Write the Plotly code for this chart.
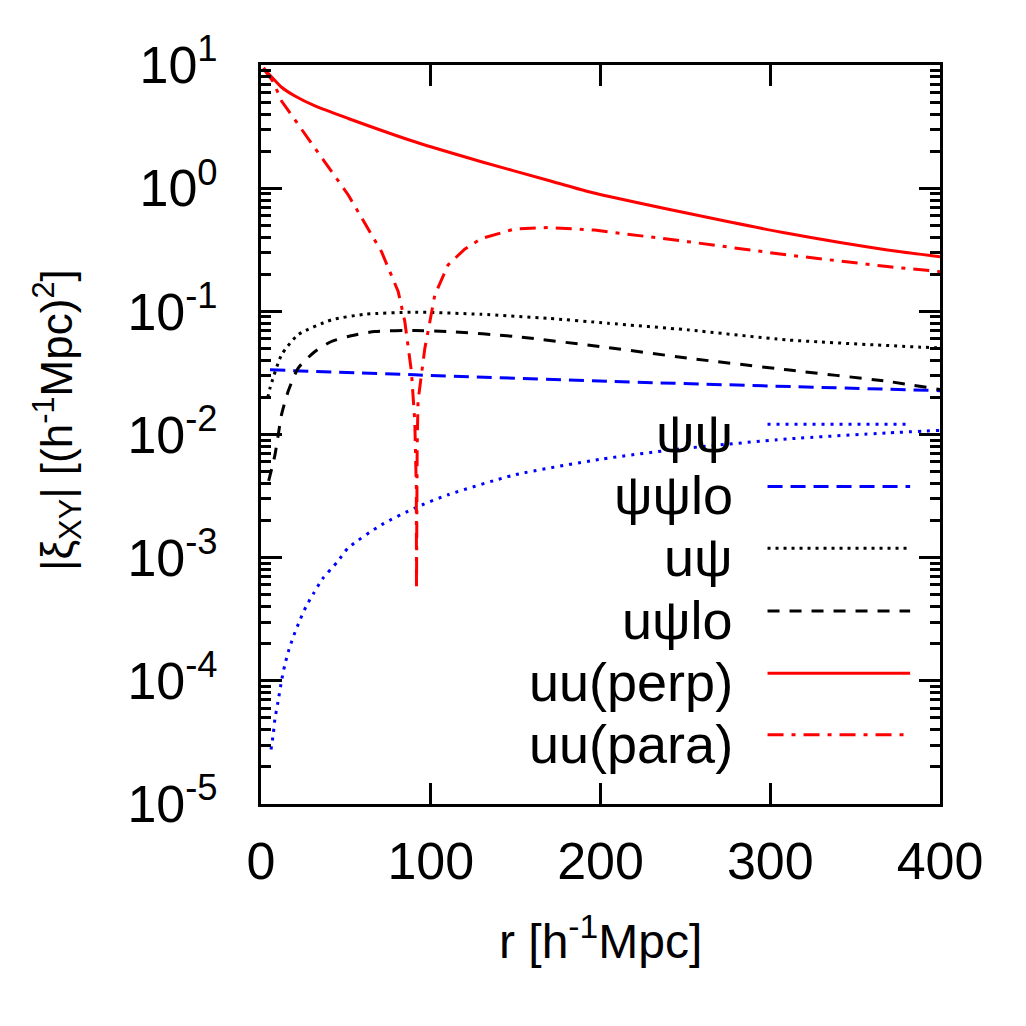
import plotly.graph_objects as go

# ---------------- data ----------------
r_psipsi = [5.9, 7.2, 8.2, 9.8, 12.1, 14.1, 16.5, 19.4, 22.9, 26.5, 31.2, 36.1, 45.1, 51.4,
            71, 90.6, 110.2, 149.4, 200, 251.4, 310, 369, 400]
v_psipsi = [2.77e-5, 3.67e-5, 4.9e-5, 6.5e-5, 1.0e-4, 1.36e-4, 1.8e-4, 2.35e-4, 3.1e-4, 4.0e-4,
            5.2e-4, 6.7e-4, 9.3e-4, 1.2e-3, 1.85e-3, 2.53e-3, 3.24e-3, 4.7e-3, 6.3e-3, 7.76e-3,
            9.2e-3, 1.03e-2, 1.08e-2]

r_psipsilo = [5.3, 90.6, 204.3, 400]
v_psipsilo = [0.0335, 0.0305, 0.027, 0.0227]

r_upsi = [4.0, 5.3, 12.1, 21.9, 41.5, 61.2, 90.6, 129.8, 169, 204.3, 251.4, 310, 388.6, 400]
v_upsi = [0.020, 0.0238, 0.0443, 0.0646, 0.0852, 0.0946, 0.0984, 0.0946, 0.0878, 0.080,
          0.0707, 0.0586, 0.0512, 0.0505]

r_upsilo = [4.5, 8.2, 10.2, 12.1, 16, 21.9, 31.8, 41.5, 51.4, 67, 90.6, 110.2, 149.4, 204.3,
            251.4, 310, 369, 400]
v_upsilo = [0.0042, 0.0068, 0.010, 0.0145, 0.0224, 0.0346, 0.0472, 0.0569, 0.0625, 0.0686,
            0.0699, 0.0686, 0.0625, 0.0508, 0.0417, 0.0335, 0.027, 0.0232]

r_perp = [1.5, 4, 7, 12.1, 20, 31.8, 51.4, 90.6, 129.8, 169, 192.5, 251.4, 310, 369, 400]
v_perp = [9.5, 8.6, 7.8, 6.6, 5.6, 4.65, 3.68, 2.38, 1.64, 1.16, 0.94, 0.625, 0.43, 0.315,
          0.278]

r_para = [1.5, 7.2, 12.1, 31.8, 51.4, 71, 80.8, 84.7, 88.6, 90.6, 91.5, 91.6,
          91.7, 92.0, 92.5, 96.5, 98.4, 102.4, 110.2, 120, 129.8, 149.4, 169, 196.5,
          251.4, 310, 369, 400]
v_para = [9.3, 7.3, 5.1, 2.1, 0.88, 0.305, 0.145, 0.083, 0.0325, 0.0128, 0.0037, 5.5e-4,
          0.003, 0.008, 0.0186, 0.050, 0.0686, 0.136, 0.238, 0.32, 0.39, 0.466, 0.479, 0.457,
          0.368, 0.287, 0.231, 0.21]

x_ticks = [0, 100, 200, 300, 400]
y_tickvals = [1e-5, 1e-4, 1e-3, 1e-2, 1e-1, 1e0, 1e1]
y_ticktext = ["10<sup>-5</sup>", "10<sup>-4</sup>", "10<sup>-3</sup>", "10<sup>-2</sup>",
              "10<sup>-1</sup>", "10<sup>0</sup>", "10<sup>1</sup>"]

labels = ["ψψ", "ψψlo", "uψ", "uψlo", "uu(perp)", "uu(para)"]

RED, BLUE, BLACK = "#ff0000", "#0000ff", "#000000"
styles = [
    dict(color=BLUE, dash="3px,6px", width=3),
    dict(color=BLUE, dash="15px,8px", width=3),
    dict(color=BLACK, dash="3px,5px", width=3),
    dict(color=BLACK, dash="12px,10px", width=3),
    dict(color=RED, dash="solid", width=3),
    dict(color=RED, dash="16px,8px,4px,8px", width=3),
]
series = [(r_psipsi, v_psipsi, "spline"), (r_psipsilo, v_psipsilo, "spline"),
          (r_upsi, v_upsi, "spline"), (r_upsilo, v_upsilo, "spline"),
          (r_perp, v_perp, "spline"), (r_para, v_para, "linear")]

FONT = "Liberation Sans, Arial, Helvetica, sans-serif"

fig = go.Figure()
for (rx, vy, shp), st, lab in zip(series, styles, labels):
    fig.add_trace(go.Scatter(x=rx, y=vy, mode="lines", name=lab,
                             line=dict(color=st["color"], dash=st["dash"], width=st["width"],
                                       shape=shp, smoothing=0.6),
                             showlegend=False))

# ---- manual legend (text on the left, sample line on the right) ----
leg_y = [0.514, 0.4296, 0.346, 0.261, 0.177, 0.0937]
for lab, st, yy in zip(labels, styles, leg_y):
    fig.add_shape(type="line", xref="paper", yref="paper", x0=0.746, x1=0.956, y0=yy, y1=yy,
                  line=dict(color=st["color"], dash=st["dash"], width=st["width"]))
    fig.add_annotation(xref="paper", yref="paper", x=0.6977, y=yy - 0.012, text=lab,
                       showarrow=False, xanchor="right", yanchor="middle",
                       font=dict(family=FONT, size=54, color="black"))

minor_vals = [m * 10 ** e for e in range(-5, 1) for m in range(2, 10)]

fig.update_layout(
    width=1026, height=1026,
    margin=dict(l=253, r=94, t=57, b=230),
    paper_bgcolor="white", plot_bgcolor="white",
    font=dict(family=FONT, size=52, color="black"),
    xaxis=dict(range=[0, 400], tickmode="array", tickvals=x_ticks,
               ticks="inside", ticklen=21, tickwidth=3, tickcolor="black",
               showline=True, linewidth=3, linecolor="black", mirror="ticks",
               showgrid=False, zeroline=False, ticklabelstandoff=10,
               tickfont=dict(family=FONT, size=52)),
    yaxis=dict(type="log", range=[-5, 1], tickmode="array", tickvals=y_tickvals,
               ticktext=y_ticktext, ticks="inside", ticklen=21, tickwidth=3,
               tickcolor="black", showline=True, linewidth=3, linecolor="black",
               mirror="ticks", showgrid=False, zeroline=False, ticklabelstandoff=30,
               tickfont=dict(family=FONT, size=52),
               minor=dict(tickmode="array", tickvals=minor_vals, ticks="inside",
                          ticklen=10, tickwidth=3, tickcolor="black", showgrid=False)),
)

# axis titles
fig.add_annotation(xref="paper", yref="paper", x=0.5, y=-0.182, yanchor="middle",
                   text="r [h<sup>-1</sup>Mpc]", showarrow=False,
                   font=dict(family=FONT, size=48))
fig.add_annotation(xref="paper", yref="paper", x=-0.3, y=0.52, xanchor="center",
                   yanchor="middle", textangle=-90,
                   text="|ξ<sub>XY</sub>| [(h<sup>-1</sup>Mpc)<sup>2</sup>]", showarrow=False,
                   font=dict(family=FONT, size=44))

fig.write_html("out.html")
